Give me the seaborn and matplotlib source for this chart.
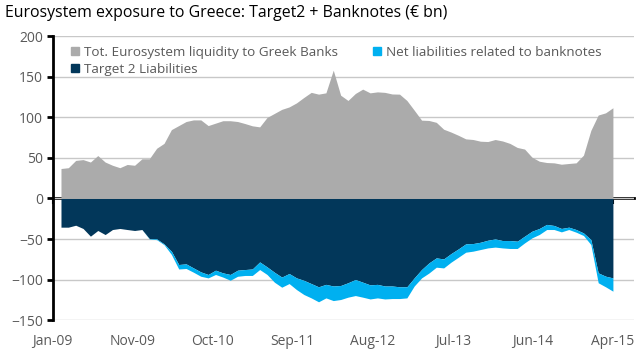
import matplotlib
matplotlib.use("Agg")
import matplotlib.pyplot as plt
import matplotlib.patches as mpatches
import numpy as np
import pandas as pd
import seaborn as sns

# Monthly data, Jan-09 .. Apr-15 (EUR bn)
months = pd.date_range("2009-01-01", "2015-04-01", freq="MS")

total_liquidity = [
    37, 38, 47, 48, 45, 53, 45, 41, 38, 42, 41, 49, 49, 62, 68, 85, 90, 95, 97, 97,
    90, 93, 96, 96, 95, 92.5, 89.7, 88.4, 100, 105, 110, 113, 118, 124.7, 131, 128.8, 130.4, 158.4, 127.5, 121,
    129.6, 135, 130.4, 131.6, 131, 129, 128.8, 121, 109, 96.7, 96.3, 94, 85.5, 82, 78, 73.6, 72.8, 70.7, 70.3, 72.8,
    71, 68, 63, 61, 51, 46, 44.4, 44, 42.3, 43.2, 44, 53.5, 84, 103, 105.7, 112,
]

target2 = [
    -35.4, -35.4, -33, -37, -46.5, -39.5, -44.5, -38.3, -37, -38.3, -39.5, -38.3, -49.4, -49.8, -56, -65, -81.5, -80.7, -85.7, -90.6,
    -93.8, -88.5, -91.8, -93.8, -88.5, -87.7, -87, -78.3, -84.4, -91, -97, -92.6, -98, -101, -105, -109, -106, -108, -107.4, -104,
    -100, -103.3, -106.6, -106, -108, -108, -109, -109, -98, -87.7, -79.5, -73.3, -74.6, -68, -62.2, -56, -55.6, -54, -51.5, -49.9,
    -51.9, -51.9, -52.7, -46.5, -40.4, -37, -32, -33.3, -37, -35.4, -38.3, -42.5, -50.6, -91.8, -95.9, -98,
]

banknotes = [
    0, 0, 0, 0, 0, 0, 0, 0, 0, 0, 0, 0, -0.5, -1, -1, -4, -5.5, -5.7, -5.3, -5.4,
    -4.2, -5.3, -5.2, -7.1, -7.5, -7.3, -8, -9.4, -9.4, -12.3, -12.5, -12.4, -14.4, -17.5, -17.7, -18.5, -16.7, -18, -17.3, -17.8,
    -19.8, -18.5, -17.4, -16.7, -16, -15.5, -14.5, -13.7, -10, -10.3, -12.5, -11.5, -11.1, -10.6, -10.3, -10.3, -9.4, -9, -9.5, -10.1,
    -9.1, -9.8, -9, -8.3, -8.2, -7.4, -6.3, -5, -4.2, -2.9, -3.3, -3.2, -6.2, -12.2, -13.1, -16.4,
]

tick_labels = ["Jan-09", "Nov-09", "Oct-10", "Sep-11", "Aug-12", "Jul-13", "Jun-14", "Apr-15"]

df = pd.DataFrame({
    "month": months,
    "total": total_liquidity,
    "target2": target2,
    "banknotes": banknotes,
})
df["idx"] = np.arange(len(df))
df["net"] = df["target2"] + df["banknotes"]

grey = "#ABABAB"
navy = "#02375A"
blue = "#00B0F0"
text_grey = "#595959"

sns.set_style("white")
plt.rcParams["font.family"] = ["Open Sans", "DejaVu Sans"]

fig = plt.figure(figsize=(6.39, 3.54), dpi=100)
ax = fig.add_axes([0.0822, 0.096, 0.9098, 0.801])

ax.fill_between(df["idx"], 0, df["total"], color=grey, lw=0)
ax.fill_between(df["idx"], 0, df["target2"], color=navy, lw=0)
ax.fill_between(df["idx"], df["target2"], df["net"], color=blue, lw=0)

ax.set_ylim(-150, 200)
ax.set_xlim(-1.15, 77.85)
ax.set_yticks(np.arange(-150, 201, 50))
ax.yaxis.grid(True, color="#C8C8C8", lw=1)
ax.set_axisbelow(True)

for s in ["top", "right", "bottom"]:
    ax.spines[s].set_visible(False)
ax.spines["left"].set_color("black")
ax.spines["left"].set_linewidth(2)

ticks = np.linspace(-1.15, len(df) - 1, len(tick_labels))
ax.set_xticks(ticks)
ax.set_xticklabels(tick_labels)
ax.tick_params(axis="x", length=0, pad=10, labelsize=10, labelcolor=text_grey)
ax.tick_params(axis="y", direction="out", length=4, width=2, color="black",
               left=True, labelsize=10, labelcolor=text_grey, pad=3)

# zero line with tick marks
zero_frac = 150 / 350
sec = ax.secondary_xaxis(zero_frac)
sec.set_xticks(ticks)
sec.tick_params(axis="x", direction="out", length=4, width=1.5, color="black", labelbottom=False)
sec.spines["bottom"].set_linewidth(2)
sec.spines["bottom"].set_color("black")

handles = [
    mpatches.Patch(color=grey, label="Tot. Eurosystem liquidity to Greek Banks"),
    mpatches.Patch(color=navy, label="Target 2 Liabilities"),
    mpatches.Patch(color=blue, label="Net liabilities related to banknotes"),
]
ax.legend(handles=handles, ncol=2, loc="upper left", bbox_to_anchor=(0.016, 1.0),
          frameon=False, fontsize=9.7, labelcolor=text_grey,
          handlelength=0.6, handleheight=0.6, handletextpad=0.35,
          columnspacing=2.6, labelspacing=0.3, borderaxespad=0.3)

fig.text(0.008, 0.963, "Eurosystem exposure to Greece: Target2 + Banknotes (\u20ac bn)",
         fontsize=11.4, color="black", va="center", ha="left")

fig.savefig("out.png", dpi=100)
